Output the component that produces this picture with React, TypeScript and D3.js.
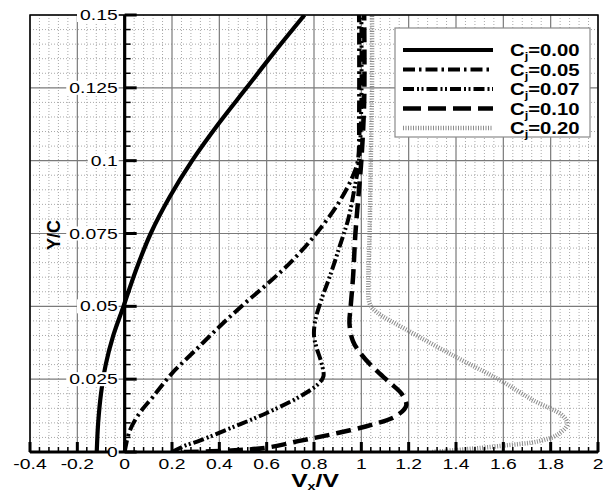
import React from "react";
import * as d3 from "d3";

// velocity profiles, [Vx/V, Y/C]
const cj000: [number, number][] = [
  [-0.118, 0], [-0.112, 0.01], [-0.1, 0.02], [-0.08, 0.03], [-0.048, 0.04],
  [-0.005, 0.05], [0.048, 0.0625], [0.11, 0.075], [0.19, 0.0875], [0.285, 0.1],
  [0.395, 0.1125], [0.515, 0.125], [0.635, 0.1375], [0.76, 0.15],
];
const cj005: [number, number][] = [
  [0, 0], [0.02, 0.007], [0.06, 0.013], [0.12, 0.019], [0.2, 0.027], [0.3, 0.035],
  [0.4, 0.043], [0.5, 0.0505], [0.6, 0.0575], [0.7, 0.065], [0.8, 0.074],
  [0.9, 0.085], [0.96, 0.094], [0.985, 0.1], [0.99, 0.115], [0.99, 0.15],
];
const cj007: [number, number][] = [
  [0.2, 0], [0.25, 0.002], [0.32, 0.004], [0.46, 0.0086], [0.6, 0.0134],
  [0.74, 0.019], [0.82, 0.0235], [0.84, 0.026], [0.83, 0.031], [0.81, 0.036],
  [0.8, 0.04], [0.805, 0.045], [0.83, 0.052], [0.87, 0.061], [0.91, 0.071],
  [0.945, 0.08], [0.97, 0.09], [0.99, 0.1], [1.0, 0.12], [1.0, 0.15],
];
const cj010: [number, number][] = [
  [0.25, 0], [0.45, 0.0005], [0.6, 0.0015], [0.75, 0.004], [0.9, 0.0065],
  [1.05, 0.0095], [1.15, 0.0125], [1.19, 0.016], [1.17, 0.02], [1.12, 0.0238],
  [1.05, 0.029], [1.0, 0.0335], [0.965, 0.038], [0.95, 0.044], [0.955, 0.05],
  [0.965, 0.06], [0.975, 0.075], [0.99, 0.09], [1.0, 0.1], [1.012, 0.12], [1.012, 0.15],
];
const cj020: [number, number][] = [
  [1.3, 0], [1.45, 0.001], [1.6, 0.0022], [1.75, 0.0037], [1.83, 0.006],
  [1.87, 0.0095], [1.85, 0.0125], [1.725, 0.0178], [1.585, 0.0247], [1.4, 0.0326],
  [1.19, 0.042], [1.065, 0.048], [1.035, 0.051], [1.03, 0.06], [1.035, 0.075],
  [1.04, 0.1], [1.045, 0.125], [1.045, 0.15],
];

const seriesNames = ["0.00", "0.05", "0.07", "0.10", "0.20"];
const seriesData = [cj000, cj005, cj007, cj010, cj020];
const seriesDash = ["", "12,4,2.5,4", "11,3,2,2.5,2,3", "15,7", "1,1.5"];
const seriesColor = ["#000", "#000", "#000", "#000", "#8c8c8c"];
const seriesWidth = [4.2, 4, 4, 4.5, 4.5];

const xTicks = [-0.4, -0.2, 0, 0.2, 0.4, 0.6, 0.8, 1, 1.2, 1.4, 1.6, 1.8, 2];
const xTickLabels = ["-0.4", "-0.2", "0", "0.2", "0.4", "0.6", "0.8", "1", "1.2", "1.4", "1.6", "1.8", "2"];
const yTicks = [0, 0.025, 0.05, 0.075, 0.1, 0.125, 0.15];
const yTickLabels = ["0", "0.025", "0.05", "0.075", "0.1", "0.125", "0.15"];

const W = 603, H = 493;
const left = 30, right = 598, top = 15, bottom = 452;

export default function App() {
  const x = d3.scaleLinear().domain([-0.4, 2]).range([left, right]);
  const y = d3.scaleLinear().domain([0, 0.15]).range([bottom, top]);
  const line = d3.line<[number, number]>()
    .x(d => x(d[0]))
    .y(d => y(d[1]))
    .curve(d3.curveCatmullRom.alpha(0.5));

  // minor grid
  const xMinor = d3.range(0, 61).map(i => -0.4 + i * 0.04).filter(v => Math.abs(v * 5 - Math.round(v * 5)) > 1e-6);
  const yMinor = d3.range(0, 31).map(i => i * 0.005).filter(v => Math.abs(v * 40 - Math.round(v * 40)) > 1e-6);

  const font = "Liberation Sans, Arial, Helvetica, sans-serif";
  const sx = 1.38;

  return (
    <svg width={W} height={H} style={{ position: "absolute", left: 0, top: 0, background: "#fff" }} fontFamily={font}>
      <defs>
        <clipPath id="plot">
          <rect x={left} y={top} width={right - left} height={bottom - top} />
        </clipPath>
      </defs>
      {/* grid */}
      <g stroke="#a8a8a8" strokeWidth={1} strokeDasharray="1,2">
        {xMinor.map((v, i) => <line key={"xm" + i} x1={x(v)} x2={x(v)} y1={top} y2={bottom} />)}
        {yMinor.map((v, i) => <line key={"ym" + i} x1={left} x2={right} y1={y(v)} y2={y(v)} />)}
      </g>
      <g stroke="#7a7a7a" strokeWidth={1.2}>
        {xTicks.map((v, i) => <line key={"xg" + i} x1={x(v)} x2={x(v)} y1={top} y2={bottom} />)}
        {yTicks.map((v, i) => <line key={"yg" + i} x1={left} x2={right} y1={y(v)} y2={y(v)} />)}
      </g>

      {/* curves */}
      <g clipPath="url(#plot)" fill="none">
        {seriesData.map((d, i) => (
          <path key={i} d={line(d) || ""} stroke={seriesColor[i]} strokeWidth={seriesWidth[i]}
            strokeDasharray={seriesDash[i] || undefined} />
        ))}
      </g>

      {/* frame */}
      <rect x={left} y={top} width={right - left} height={bottom - top} fill="none" stroke="#000" strokeWidth={1.5} />

      {/* y axis at x = 0 */}
      <line x1={x(0)} x2={x(0)} y1={top} y2={bottom} stroke="#000" strokeWidth={3.2} />
      {yMinor.map((v, i) => <line key={"yt" + i} x1={x(0)} x2={x(0) + 6} y1={y(v)} y2={y(v)} stroke="#000" strokeWidth={1.5} />)}
      {yTicks.map((v, i) => <line key={"yT" + i} x1={x(0)} x2={x(0) + 12} y1={y(v)} y2={y(v)} stroke="#000" strokeWidth={3} />)}

      {/* x axis at bottom */}
      <line x1={left} x2={right} y1={bottom} y2={bottom} stroke="#000" strokeWidth={3.2} />
      {xMinor.map((v, i) => <line key={"xt" + i} x1={x(v)} x2={x(v)} y1={bottom} y2={bottom - 5} stroke="#000" strokeWidth={1.5} />)}
      {xTicks.map((v, i) => <line key={"xT" + i} x1={x(v)} x2={x(v)} y1={bottom} y2={bottom - 10} stroke="#000" strokeWidth={3} />)}

      {/* y tick labels with white boxes */}
      {yTicks.map((v, i) => {
        const w = (yTickLabels[i].length - 0.5) * 7.8 * sx + 2;
        return (
          <g key={"yl" + i} transform={`translate(${x(0) - 7},${y(v)})`}>
            <rect x={-w - 1} y={-7} width={w + 2} height={14} fill="#fff" />
            <text transform={`scale(${sx},1)`} y={5} textAnchor="end" fontSize={14} fill="#000">{yTickLabels[i]}</text>
          </g>
        );
      })}

      {/* x tick labels */}
      {xTicks.map((v, i) => (
        <text key={"xl" + i} transform={`translate(${x(v)},469) scale(${sx},1)`} textAnchor="middle" fontSize={14} fill="#000">
          {xTickLabels[i]}
        </text>
      ))}

      {/* axis titles */}
      <text transform={`translate(315,487) scale(1.3,1)`} textAnchor="middle" fontSize={19} fontWeight="bold">
        V<tspan fontSize={11} dy={3}>x</tspan><tspan dy={-3}>/V</tspan>
      </text>
      <text transform="translate(60,235) rotate(-90)" textAnchor="middle" fontSize={18} fontWeight="bold">Y/C</text>

      {/* legend */}
      <rect x={395} y={28} width={195} height={109} fill="#fff" stroke="#8a8a8a" strokeWidth={1.2} />
      {seriesNames.map((n, i) => {
        const ry = 50 + i * 19.5;
        return (
          <g key={"lg" + i}>
            <line x1={403} x2={493} y1={ry} y2={ry} stroke={seriesColor[i]} strokeWidth={seriesWidth[i]}
              strokeDasharray={i === 3 ? "18,7" : seriesDash[i] || undefined} />
            <text transform={`translate(510,${ry + 6}) scale(1.27,1)`} fontSize={16} fontWeight="bold">
              C<tspan fontSize={10} dy={4}>j</tspan><tspan dy={-4}>={n}</tspan>
            </text>
          </g>
        );
      })}
    </svg>
  );
}
